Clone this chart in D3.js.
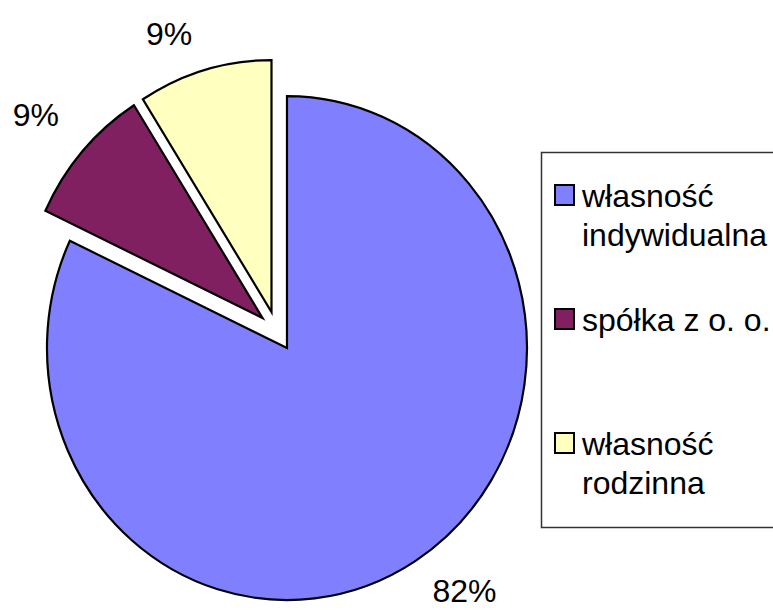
<!DOCTYPE html>
<html>
<head>
<meta charset="utf-8">
<script src="https://cdn.jsdelivr.net/npm/d3@7.9.0/dist/d3.min.js"></script>
<style>
  body { margin: 0; background: #fff; }
  svg { display: block; font-family: "Liberation Sans", Arial, sans-serif; }
</style>
</head>
<body>
<svg id="chart" width="773" height="610"></svg>
<script>
const categories = ['własność indywidualna', 'spółka z o. o.', 'własność rodzinna'];
const legendLines = [['własność', 'indywidualna'], ['spółka z o. o.'], ['własność', 'rodzinna']];
const shares = [82, 9, 9];
const colors = ['#8080ff', '#802060', '#ffffc0'];

const svg = d3.select('#chart');

// pie is drawn slightly taller than wide, like the original
const rx = 240, ry = 252;
const cx = 276.8, cy = 331.2;
const explode = 19;

const data = categories.map((c, i) => ({ label: c, value: shares[i] }));
const pie = d3.pie().sort(null).value((d) => d.value);
const arcs = pie(data);
const arcGen = d3.arc().innerRadius(0).outerRadius(rx);

const g = svg.append('g')
  .attr('transform', `translate(${cx},${cy}) scale(1,${ry / rx})`);

arcs.forEach((a, i) => {
  const mid = (a.startAngle + a.endAngle) / 2;
  const ox = Math.sin(mid) * explode;
  const oy = -Math.cos(mid) * explode;
  g.append('path')
    .attr('d', arcGen(a))
    .attr('transform', `translate(${ox},${oy})`)
    .attr('fill', colors[i])
    .attr('stroke', '#000')
    .attr('stroke-width', 2.2)
    .attr('stroke-linejoin', 'miter')
    .attr('vector-effect', 'non-scaling-stroke');
});

// percent labels outside the slices
const labelArc = d3.arc().innerRadius(300).outerRadius(300);
const labelNudge = [[27, -6], [-16, -8], [-24, 5]];
arcs.forEach((a, i) => {
  const [lx, ly] = labelArc.centroid(a);
  svg.append('text')
    .attr('x', cx + lx + labelNudge[i][0])
    .attr('y', cy + ly * ry / rx + labelNudge[i][1] + 11)
    .attr('text-anchor', 'middle')
    .attr('font-size', 32)
    .attr('fill', '#000')
    .text(d3.format('.0f')(a.value / d3.sum(shares) * 100) + '%');
});

// legend
svg.append('rect')
  .attr('x', 541.5).attr('y', 152.5)
  .attr('width', 260).attr('height', 375)
  .attr('fill', '#fff')
  .attr('stroke', '#333')
  .attr('stroke-width', 1.5);

const legendY = d3.scalePoint().domain(categories).range([207, 455]);
categories.forEach((c, i) => {
  const y = legendY(c);
  svg.append('rect')
    .attr('x', 555).attr('y', y - 22)
    .attr('width', 19).attr('height', 20)
    .attr('fill', colors[i])
    .attr('stroke', '#000')
    .attr('stroke-width', 2);
  const t = svg.append('text')
    .attr('x', 582).attr('y', y)
    .attr('font-size', 32)
    .attr('fill', '#000');
  legendLines[i].forEach((line, j) => {
    t.append('tspan')
      .attr('x', 582)
      .attr('dy', j === 0 ? 0 : 39)
      .text(line);
  });
});
</script>
</body>
</html>
